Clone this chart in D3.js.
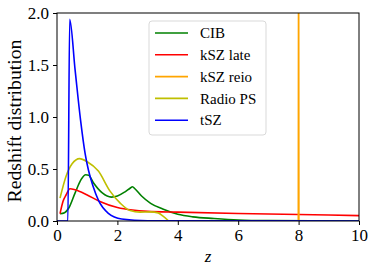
<!DOCTYPE html>
<html>
<head>
<meta charset="utf-8">
<script src="https://cdn.jsdelivr.net/npm/d3@7"></script>
<style>
  body { margin: 0; background: #fff; }
</style>
</head>
<body>
<div id="chart"></div>
<script>
// redshift distributions: [z, value]
const cib = [[0.1,0.07],[0.25,0.08],[0.4,0.13],[0.6,0.27],[0.8,0.4],[0.95,0.445],[1.05,0.44],[1.2,0.37],[1.5,0.27],[1.8,0.23],[2.0,0.24],[2.25,0.28],[2.42,0.315],[2.5,0.33],[2.58,0.31],[2.8,0.24],[3.1,0.17],[3.5,0.115],[4.0,0.065],[4.5,0.04],[5.2,0.024],[6.0,0.01],[7.0,0.004],[10,0]];
const kszLate = [[0.1,0.07],[0.2,0.19],[0.3,0.25],[0.43,0.31],[0.6,0.3],[1.0,0.25],[1.4,0.19],[2.0,0.13],[2.5,0.105],[3.0,0.093],[4.0,0.085],[6.0,0.072],[8.0,0.062],[10,0.052]];
const kszReio = [[7.99,0],[8.0,3],[8.01,0]];
const radioPS = [[0.1,0.22],[0.3,0.43],[0.5,0.55],[0.75,0.6],[1.0,0.57],[1.37,0.48],[1.75,0.29],[2.1,0.17],[2.42,0.1],[2.75,0.085],[3.1,0.088],[3.35,0.078],[3.5,0.05],[3.7,0]];
const tsz = [[0,0],[0.36,0],[0.42,1.94],[0.6,1.45],[0.78,0.97],[0.93,0.65],[1.04,0.49],[1.2,0.33],[1.37,0.2],[1.7,0.074],[2.14,0.02],[3.0,0.003],[10,0]];

const seriesNames = ["CIB","kSZ late","kSZ reio","Radio PS","tSZ"];
const seriesData = [cib, kszLate, kszReio, radioPS, tsz];
const seriesColors = ["green","red","orange","#bfbf00","blue"];
const serif = "'Liberation Serif', 'DejaVu Serif', serif";

const xTicks = [0,2,4,6,8,10];
const yTicks = [0,0.5,1.0,1.5,2.0];

const W = 374, H = 273;
const margin = {top:13, right:15, bottom:52, left:57};
const width = W - margin.left - margin.right;
const height = H - margin.top - margin.bottom;

const svg = d3.select("#chart").append("svg")
    .attr("width",W).attr("height",H);
const g = svg.append("g")
    .attr("transform",`translate(${margin.left},${margin.top})`);

const x = d3.scaleLinear().domain([0,10]).range([0,width]);
const y = d3.scaleLinear().domain([0,2]).range([height,0]);

g.append("clipPath").attr("id","clip")
  .append("rect").attr("width",width).attr("height",height);

const smooth = d3.line().x(d => x(d[0])).y(d => y(d[1])).curve(d3.curveMonotoneX);
const straight = d3.line().x(d => x(d[0])).y(d => y(d[1]));

seriesData.forEach((data,i) => {
    g.append("path")
        .datum(data)
        .attr("clip-path","url(#clip)")
        .attr("d",i === 2 ? straight : smooth)
        .attr("fill","none")
        .attr("stroke",seriesColors[i])
        .attr("stroke-width",1.6)
        .attr("stroke-linejoin","round");
});

// axes
const xAxis = g.append("g")
    .attr("transform",`translate(0,${height})`)
    .call(d3.axisBottom(x).tickValues(xTicks).tickFormat(d3.format("d")).tickSize(4).tickPadding(4));
const yAxis = g.append("g")
    .call(d3.axisLeft(y).tickValues(yTicks).tickFormat(d3.format(".1f")).tickSize(4).tickPadding(4));
[xAxis,yAxis].forEach(a => {
    a.attr("font-family",null).attr("font-size",null);
    a.select(".domain").remove();
    a.selectAll("line").attr("stroke","#000").attr("stroke-width",1);
    a.selectAll("text").attr("fill","#000")
        .style("font-family",serif).style("font-size","17px");
});
yAxis.selectAll("text").attr("dy","0.35em");

g.append("rect")
    .attr("width",width).attr("height",height)
    .attr("fill","none").attr("stroke","#000").attr("stroke-width",1);

// labels
svg.append("text")
    .attr("transform",`translate(21,${margin.top + height/2 + 4}) rotate(-90)`)
    .attr("text-anchor","middle")
    .style("font-family",serif).style("font-size","18px")
    .attr("textLength",163).attr("lengthAdjust","spacingAndGlyphs")
    .text("Redshift distribution");
svg.append("text")
    .attr("x",208).attr("y",262)
    .attr("text-anchor","middle")
    .style("font-family",serif).style("font-size","17px").style("font-style","italic")
    .text("z");

// legend
const leg = svg.append("g").attr("transform","translate(149,21)");
leg.append("rect")
    .attr("width",117).attr("height",114).attr("rx",3)
    .attr("fill","#fff").attr("fill-opacity",0.8)
    .attr("stroke","#d9d9d9").attr("stroke-width",1);
seriesNames.forEach((name,i) => {
    const cy = 12 + i*21.8;
    leg.append("line")
        .attr("x1",6).attr("x2",39).attr("y1",cy).attr("y2",cy)
        .attr("stroke",seriesColors[i]).attr("stroke-width",1.6);
    leg.append("text")
        .attr("x",51).attr("y",cy).attr("dy","0.35em")
        .style("font-family",serif).style("font-size","15px")
        .text(name);
});
</script>
</body>
</html>
